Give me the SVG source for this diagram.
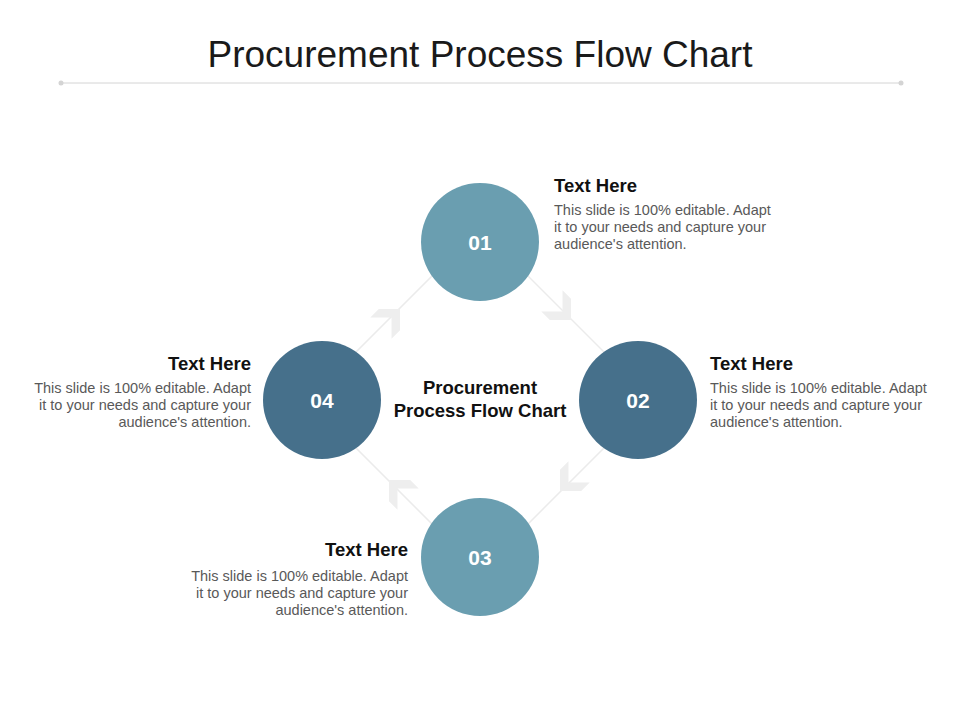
<svg xmlns="http://www.w3.org/2000/svg" width="960" height="720" viewBox="0 0 960 720">
  <defs>
    <style>
      .title { font-family: "Liberation Sans", Arial, sans-serif; font-size: 37px; fill: #1a1a1a; }
      .num { font-family: "Liberation Sans", Arial, sans-serif; font-size: 21px; font-weight: bold; fill: #ffffff; }
      .head { font-family: "Liberation Sans", Arial, sans-serif; font-size: 18.5px; font-weight: bold; fill: #111111; }
      .body { font-family: "Liberation Sans", Arial, sans-serif; font-size: 14.5px; fill: #595959; }
      .center { font-family: "Liberation Sans", Arial, sans-serif; font-size: 18.5px; font-weight: bold; fill: #111111; }
      .light { fill: #6A9EB0; }
      .dark { fill: #46708B; }
      .conn { stroke: #ebebeb; stroke-width: 1.5; fill: none; }
      .chev { fill: #eeeeee; stroke: none; }
    </style>
    <polygon id="chevron" class="chev" points="-15,-15 0,0 -15,15 -27,15 -12,0 -27,-15"/>
  </defs>
  <rect width="960" height="720" fill="#ffffff"/>

  <g id="title">
    <text class="title" x="480" y="67" text-anchor="middle">Procurement Process Flow Chart</text>
    <line x1="61" y1="83" x2="901" y2="83" stroke="#d4d4d4" stroke-width="1"/>
    <circle cx="61" cy="83" r="2.5" fill="#d4d4d4"/>
    <circle cx="901" cy="83" r="2.5" fill="#d4d4d4"/>
  </g>

  <g id="connectors">
    <line class="conn" x1="487" y1="235" x2="645" y2="393"/>
    <line class="conn" x1="645" y1="407" x2="487" y2="565"/>
    <line class="conn" x1="473" y1="565" x2="315" y2="407"/>
    <line class="conn" x1="315" y1="393" x2="473" y2="235"/>
    <use href="#chevron" transform="translate(571,320) rotate(45)"/>
    <use href="#chevron" transform="translate(560,491) rotate(135)"/>
    <use href="#chevron" transform="translate(389,480) rotate(225)"/>
    <use href="#chevron" transform="translate(400,309) rotate(-45)"/>
  </g>

  <g id="node01">
    <circle class="light" cx="480" cy="242" r="59"/>
    <text class="num" x="480" y="249.5" text-anchor="middle">01</text>
    <text class="head" x="554" y="192">Text Here</text>
    <text class="body" x="554" y="215">This slide is 100% editable. Adapt</text>
    <text class="body" x="554" y="232">it to your needs and capture your</text>
    <text class="body" x="554" y="249">audience's attention.</text>
  </g>

  <g id="node02">
    <circle class="dark" cx="638" cy="400" r="59"/>
    <text class="num" x="638" y="407.5" text-anchor="middle">02</text>
    <text class="head" x="710" y="370">Text Here</text>
    <text class="body" x="710" y="393">This slide is 100% editable. Adapt</text>
    <text class="body" x="710" y="410">it to your needs and capture your</text>
    <text class="body" x="710" y="427">audience's attention.</text>
  </g>

  <g id="node03">
    <circle class="light" cx="480" cy="557" r="59"/>
    <text class="num" x="480" y="564.5" text-anchor="middle">03</text>
    <text class="head" x="408" y="556" text-anchor="end">Text Here</text>
    <text class="body" x="408" y="581" text-anchor="end">This slide is 100% editable. Adapt</text>
    <text class="body" x="408" y="598" text-anchor="end">it to your needs and capture your</text>
    <text class="body" x="408" y="615" text-anchor="end">audience's attention.</text>
  </g>

  <g id="node04">
    <circle class="dark" cx="322" cy="400" r="59"/>
    <text class="num" x="322" y="407.5" text-anchor="middle">04</text>
    <text class="head" x="251" y="370" text-anchor="end">Text Here</text>
    <text class="body" x="251" y="393" text-anchor="end">This slide is 100% editable. Adapt</text>
    <text class="body" x="251" y="410" text-anchor="end">it to your needs and capture your</text>
    <text class="body" x="251" y="427" text-anchor="end">audience's attention.</text>
  </g>

  <g id="center-label">
    <text class="center" x="480" y="394" text-anchor="middle">Procurement</text>
    <text class="center" x="480" y="417" text-anchor="middle">Process Flow Chart</text>
  </g>
</svg>
